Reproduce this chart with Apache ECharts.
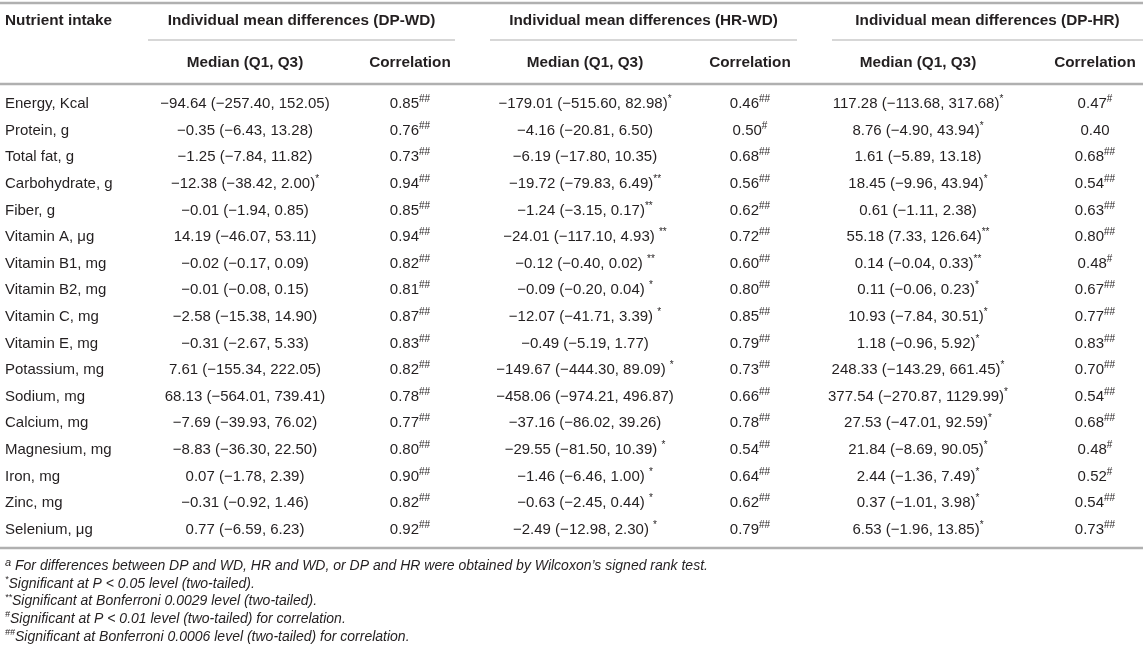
<!DOCTYPE html>
<html>
<head>
<meta charset="utf-8">
<script src="https://cdn.jsdelivr.net/npm/echarts@6/dist/echarts.min.js"></script>
<style>
html, body { margin: 0; padding: 0; background: #fff; }
#main { width: 1143px; height: 655px; }
</style>
</head>
<body>
<div id="main"></div>
<script>
// table content
var groupTitles = ['Individual mean differences (DP-WD)', 'Individual mean differences (HR-WD)', 'Individual mean differences (DP-HR)'];
var subTitles = ['Median (Q1, Q3)', 'Correlation'];
var nutrients = ['Energy, Kcal', 'Protein, g', 'Total fat, g', 'Carbohydrate, g', 'Fiber, g', 'Vitamin A, \u03bcg', 'Vitamin B1, mg', 'Vitamin B2, mg', 'Vitamin C, mg', 'Vitamin E, mg', 'Potassium, mg', 'Sodium, mg', 'Calcium, mg', 'Magnesium, mg', 'Iron, mg', 'Zinc, mg', 'Selenium, \u03bcg'];

var dpwdMedian = ['\u221294.64 (\u2212257.40, 152.05)', '\u22120.35 (\u22126.43, 13.28)', '\u22121.25 (\u22127.84, 11.82)', '\u221212.38 (\u221238.42, 2.00)', '\u22120.01 (\u22121.94, 0.85)', '14.19 (\u221246.07, 53.11)', '\u22120.02 (\u22120.17, 0.09)', '\u22120.01 (\u22120.08, 0.15)', '\u22122.58 (\u221215.38, 14.90)', '\u22120.31 (\u22122.67, 5.33)', '7.61 (\u2212155.34, 222.05)', '68.13 (\u2212564.01, 739.41)', '\u22127.69 (\u221239.93, 76.02)', '\u22128.83 (\u221236.30, 22.50)', '0.07 (\u22121.78, 2.39)', '\u22120.31 (\u22120.92, 1.46)', '0.77 (\u22126.59, 6.23)'];
var dpwdSig = ['', '', '', '*', '', '', '', '', '', '', '', '', '', '', '', '', ''];
var dpwdCorr = ['0.85', '0.76', '0.73', '0.94', '0.85', '0.94', '0.82', '0.81', '0.87', '0.83', '0.82', '0.78', '0.77', '0.80', '0.90', '0.82', '0.92'];
var dpwdCorrSig = ['##', '##', '##', '##', '##', '##', '##', '##', '##', '##', '##', '##', '##', '##', '##', '##', '##'];

var hrwdMedian = ['\u2212179.01 (\u2212515.60, 82.98)', '\u22124.16 (\u221220.81, 6.50)', '\u22126.19 (\u221217.80, 10.35)', '\u221219.72 (\u221279.83, 6.49)', '\u22121.24 (\u22123.15, 0.17)', '\u221224.01 (\u2212117.10, 4.93) ', '\u22120.12 (\u22120.40, 0.02) ', '\u22120.09 (\u22120.20, 0.04) ', '\u221212.07 (\u221241.71, 3.39) ', '\u22120.49 (\u22125.19, 1.77)', '\u2212149.67 (\u2212444.30, 89.09) ', '\u2212458.06 (\u2212974.21, 496.87)', '\u221237.16 (\u221286.02, 39.26)', '\u221229.55 (\u221281.50, 10.39) ', '\u22121.46 (\u22126.46, 1.00) ', '\u22120.63 (\u22122.45, 0.44) ', '\u22122.49 (\u221212.98, 2.30) '];
var hrwdSig = ['*', '', '', '**', '**', '**', '**', '*', '*', '', '*', '', '', '*', '*', '*', '*'];
var hrwdCorr = ['0.46', '0.50', '0.68', '0.56', '0.62', '0.72', '0.60', '0.80', '0.85', '0.79', '0.73', '0.66', '0.78', '0.54', '0.64', '0.62', '0.79'];
var hrwdCorrSig = ['##', '#', '##', '##', '##', '##', '##', '##', '##', '##', '##', '##', '##', '##', '##', '##', '##'];

var dphrMedian = ['117.28 (\u2212113.68, 317.68)', '8.76 (\u22124.90, 43.94)', '1.61 (\u22125.89, 13.18)', '18.45 (\u22129.96, 43.94)', '0.61 (\u22121.11, 2.38)', '55.18 (7.33, 126.64)', '0.14 (\u22120.04, 0.33)', '0.11 (\u22120.06, 0.23)', '10.93 (\u22127.84, 30.51)', '1.18 (\u22120.96, 5.92)', '248.33 (\u2212143.29, 661.45)', '377.54 (\u2212270.87, 1129.99)', '27.53 (\u221247.01, 92.59)', '21.84 (\u22128.69, 90.05)', '2.44 (\u22121.36, 7.49)', '0.37 (\u22121.01, 3.98)', '6.53 (\u22121.96, 13.85)'];
var dphrSig = ['*', '*', '', '*', '', '**', '**', '*', '*', '*', '*', '*', '*', '*', '*', '*', '*'];
var dphrCorr = ['0.47', '0.40', '0.68', '0.54', '0.63', '0.80', '0.48', '0.67', '0.77', '0.83', '0.70', '0.54', '0.68', '0.48', '0.52', '0.54', '0.73'];
var dphrCorrSig = ['#', '', '##', '##', '##', '##', '#', '##', '##', '##', '##', '##', '##', '#', '#', '##', '##'];

var footMarks = ['a', '*', '**', '#', '##'];
var footTexts = [
  'For differences between DP and WD, HR and WD, or DP and HR were obtained by Wilcoxon\u2019s signed rank test.',
  'Significant at P < 0.05 level (two-tailed).',
  'Significant at Bonferroni 0.0029 level (two-tailed).',
  'Significant at P < 0.01 level (two-tailed) for correlation.',
  'Significant at Bonferroni 0.0006 level (two-tailed) for correlation.'
];

// layout
var W = 1143;
var FONT = "'Liberation Sans', Arial, Helvetica, sans-serif";
var TXT = '#231f20';
var RULE = '#b0b0b0';
var colX = [5, 245, 410, 585, 750, 918, 1095];
var groupSpan = [[148, 455], [490, 797], [832, 1143]];
var rowY0 = 103, rowStep = 26.6;

var chart = echarts.init(document.getElementById('main'), null, { renderer: 'canvas' });
var g = [];

function rule(x1, x2, y, w) {
  g.push({ type: 'line', shape: { x1: x1, y1: y, x2: x2, y2: y }, style: { stroke: RULE, lineWidth: w } });
}
function cell(x, y, main, sup, align, bold) {
  g.push({
    type: 'text', x: x, y: y,
    style: {
      text: '{m|' + main + '}' + (sup ? '{s|' + sup + '}' : ''),
      align: align, verticalAlign: 'middle',
      rich: {
        m: { fontFamily: FONT, fontSize: bold ? 15.3 : 15, fontWeight: bold ? 'bold' : 'normal', fill: TXT, lineHeight: 17, verticalAlign: 'bottom' },
        s: { fontFamily: FONT, fontSize: 10, fill: TXT, lineHeight: 17, verticalAlign: 'top' }
      }
    }
  });
}

rule(0, W, 3, 2.5);
cell(colX[0], 20, 'Nutrient intake', '', 'left', true);
groupTitles.forEach(function (t, i) {
  cell((groupSpan[i][0] + groupSpan[i][1]) / 2, 20, t, '', 'center', true);
  rule(groupSpan[i][0], groupSpan[i][1], 40, 1.2);
  cell(colX[1 + i * 2], 62, subTitles[0], '', 'center', true);
  cell(colX[2 + i * 2], 62, subTitles[1], '', 'center', true);
});
rule(0, W, 84, 2.5);

var medCols = [dpwdMedian, hrwdMedian, dphrMedian];
var sigCols = [dpwdSig, hrwdSig, dphrSig];
var corCols = [dpwdCorr, hrwdCorr, dphrCorr];
var corSigCols = [dpwdCorrSig, hrwdCorrSig, dphrCorrSig];

nutrients.forEach(function (n, r) {
  var y = rowY0 + r * rowStep;
  cell(colX[0], y, n, '', 'left', false);
  for (var k = 0; k < 3; k++) {
    cell(colX[1 + k * 2], y, medCols[k][r], sigCols[k][r], 'center', false);
    cell(colX[2 + k * 2], y, corCols[k][r], corSigCols[k][r], 'center', false);
  }
});
rule(0, W, 548, 2.5);

footMarks.forEach(function (m, i) {
  var y = 565 + i * 17.8;
  g.push({
    type: 'text', x: 5, y: y,
    style: {
      text: '{s|' + m + '}{m|' + (m === 'a' ? ' ' : '') + footTexts[i] + '}',
      align: 'left', verticalAlign: 'middle',
      rich: {
        m: { fontFamily: FONT, fontSize: 14, fontStyle: 'italic', fill: TXT, lineHeight: 16, verticalAlign: 'bottom' },
        s: { fontFamily: FONT, fontSize: m === 'a' ? 11 : 9, fontStyle: 'italic', fill: TXT, lineHeight: 16, verticalAlign: 'top' }
      }
    }
  });
});

chart.setOption({ backgroundColor: '#fff', graphic: { elements: g } });
</script>
</body>
</html>
